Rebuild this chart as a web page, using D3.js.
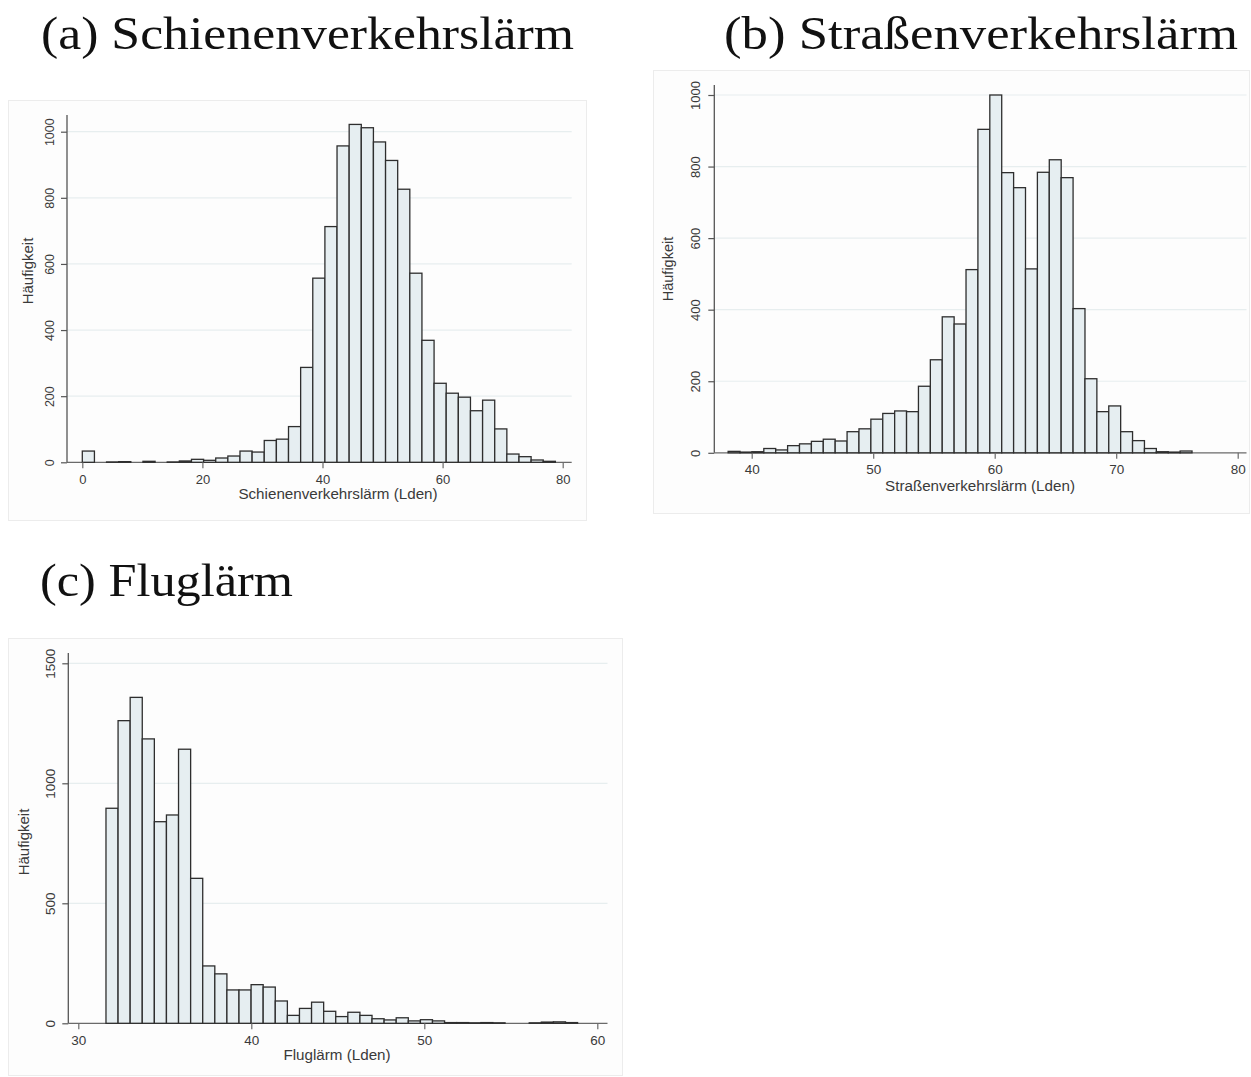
<!DOCTYPE html>
<html>
<head>
<meta charset="utf-8">
<script src="https://cdn.jsdelivr.net/npm/d3@7"></script>
<style>
  body { margin: 0; background: #ffffff; }
  svg { display: block; }
</style>
</head>
<body>
<svg id="chart" width="1251" height="1077"></svg>
<script>
// Häufigkeiten je Klasse, jeweils 39 Klassen gleicher Breite

// (a) Schienenverkehrslärm
const schieneCounts = [34, 0, 1, 2, 0, 3, 0, 1, 4, 9, 6, 13, 19, 34, 31, 66, 70, 108, 287, 557,
                       713, 957, 1022, 1012, 969, 913, 826, 572, 369, 239, 209, 197, 156, 188, 101, 25, 17, 7, 3];
const schieneStart = 0;
const schieneBinWidth = 2.02;
const schieneXTicks = [0, 20, 40, 60, 80];
const schieneYTicks = [0, 200, 400, 600, 800, 1000];

// (b) Straßenverkehrslärm
const strasseCounts = [4, 2, 3, 12, 8, 20, 25, 32, 38, 33, 59, 67, 94, 110, 117, 115, 186, 260, 380, 360,
                       512, 904, 1000, 783, 741, 514, 784, 819, 769, 403, 207, 115, 131, 59, 34, 12, 3, 2, 5];
const strasseStart = 38.06;
const strasseBinWidth = 0.979;
const strasseXTicks = [40, 50, 60, 70, 80];
const strasseYTicks = [0, 200, 400, 600, 800, 1000];

// (c) Fluglärm
const flugCounts = [896, 1261, 1358, 1185, 840, 868, 1142, 604, 239, 206, 139, 139, 161, 151, 93, 33, 62, 88, 50, 28,
                    46, 33, 19, 14, 23, 10, 15, 10, 3, 3, 2, 3, 2, 0, 0, 2, 5, 6, 3];
const flugStart = 31.6;
const flugBinWidth = 0.699;
const flugXTicks = [30, 40, 50, 60];
const flugYTicks = [0, 500, 1000, 1500];

const titles = ["(a) Schienenverkehrslärm", "(b) Straßenverkehrslärm", "(c) Fluglärm"];
const xLabels = ["Schienenverkehrslärm (Lden)", "Straßenverkehrslärm (Lden)", "Fluglärm (Lden)"];
const yLabel = "Häufigkeit";

// Layout of the three panels
const panels = [
  {
    title: titles[0], xLabel: xLabels[0],
    counts: schieneCounts, start: schieneStart, binWidth: schieneBinWidth,
    xTicks: schieneXTicks, yTicks: schieneYTicks,
    frame: { x0: 8, y0: 100, x1: 586, y1: 520 },
    xDomain: [0, 80], xRange: [82.3, 562.7],
    yDomain: [0, 1000], yRange: [462.3, 131.7],
    plotLeft: 67, plotRight: 571.7, plotTop: 115,
    titleX: 41, titleY: 49, titleW: 533,
    yTickBase: 53.5, yTickSize: 12.5,
    yTitleBase: 32.5, yTitleY: 271, yTitleSize: 15,
    xTickBase: 484, xTickSize: 13,
    xTitleX: 338, xTitleBase: 499, xTitleSize: 15.2
  },
  {
    title: titles[1], xLabel: xLabels[1],
    counts: strasseCounts, start: strasseStart, binWidth: strasseBinWidth,
    xTicks: strasseXTicks, yTicks: strasseYTicks,
    frame: { x0: 653, y0: 70, x1: 1249, y1: 513 },
    xDomain: [40, 80], xRange: [751.7, 1237.7],
    yDomain: [0, 1000], yRange: [452.8, 95],
    plotLeft: 714.3, plotRight: 1246.5, plotTop: 85,
    titleX: 724, titleY: 49, titleW: 514,
    yTickBase: 700, yTickSize: 13,
    yTitleBase: 672.5, yTitleY: 269, yTitleSize: 14.5,
    xTickBase: 474, xTickSize: 13.5,
    xTitleX: 980, xTitleBase: 491, xTitleSize: 15.2
  },
  {
    title: titles[2], xLabel: xLabels[2],
    counts: flugCounts, start: flugStart, binWidth: flugBinWidth,
    xTicks: flugXTicks, yTicks: flugYTicks,
    frame: { x0: 8, y0: 638, x1: 622, y1: 1075 },
    xDomain: [30, 60], xRange: [78.3, 597.3],
    yDomain: [0, 1500], yRange: [1023.3, 663.3],
    plotLeft: 68.3, plotRight: 607.5, plotTop: 653,
    titleX: 40, titleY: 596, titleW: 253,
    yTickBase: 55, yTickSize: 13.5,
    yTitleBase: 29, yTitleY: 842, yTitleSize: 15,
    xTickBase: 1045, xTickSize: 13.5,
    xTitleX: 337, xTitleBase: 1060, xTitleSize: 15.2
  }
];

const svg = d3.select("#chart");
const sans = "'Liberation Sans', Arial, Helvetica, sans-serif";
const serif = "'Liberation Serif', 'DejaVu Serif', serif";
const titleSize = 47;

panels.forEach(p => {
  const g = svg.append("g");
  const f = p.frame;

  // Graph region frame
  g.append("rect")
    .attr("x", f.x0 + 0.5).attr("y", f.y0 + 0.5)
    .attr("width", f.x1 - f.x0).attr("height", f.y1 - f.y0)
    .attr("fill", "#fdfdfd").attr("stroke", "#ececec").attr("stroke-width", 1);

  const x = d3.scaleLinear().domain(p.xDomain).range(p.xRange);
  const y = d3.scaleLinear().domain(p.yDomain).range(p.yRange);
  const y0 = y(0);

  // Horizontal grid lines
  g.append("g").selectAll("line")
    .data(p.yTicks.filter(t => t > 0))
    .join("line")
    .attr("x1", p.plotLeft).attr("x2", p.plotRight)
    .attr("y1", d => y(d)).attr("y2", d => y(d))
    .attr("stroke", "#e7eeef").attr("stroke-width", 1.2);

  // Histogram bars (empty classes are not drawn)
  const bins = p.counts.map((c, i) => ({
    x0: p.start + i * p.binWidth,
    x1: p.start + (i + 1) * p.binWidth,
    count: c
  })).filter(b => b.count > 0);

  // x axis line
  g.append("line")
    .attr("x1", p.plotLeft).attr("x2", p.plotRight)
    .attr("y1", y0).attr("y2", y0)
    .attr("stroke", "#6a6a6a").attr("stroke-width", 1.3);

  g.append("g").selectAll("rect")
    .data(bins)
    .join("rect")
    .attr("x", d => x(d.x0))
    .attr("width", d => x(d.x1) - x(d.x0))
    .attr("y", d => y(d.count))
    .attr("height", d => y0 - y(d.count))
    .attr("fill", "#e6eef1")
    .attr("stroke", "#2e2e2e")
    .attr("stroke-width", 1.3);

  // y axis (line, ticks, vertical labels)
  const yAxis = d3.axisLeft(y).tickValues(p.yTicks).tickSize(6).tickSizeOuter(0).tickFormat(d3.format("d"));
  const ya = g.append("g").attr("transform", `translate(${p.plotLeft},0)`).call(yAxis);
  ya.select(".domain").attr("d", `M0,${p.plotTop}V${y0}`).attr("stroke", "#555").attr("stroke-width", 1.3);
  ya.selectAll(".tick line").attr("stroke", "#555").attr("stroke-width", 1.2);
  ya.selectAll(".tick text")
    .attr("x", null).attr("dy", null)
    .attr("transform", `translate(${p.yTickBase - p.plotLeft},0) rotate(-90)`)
    .attr("text-anchor", "middle")
    .attr("font-family", sans).attr("font-size", p.yTickSize)
    .attr("fill", "#3a3a3a");

  // x axis (ticks and labels)
  const xAxis = d3.axisBottom(x).tickValues(p.xTicks).tickSize(6).tickSizeOuter(0).tickFormat(d3.format("d"));
  const xa = g.append("g").attr("transform", `translate(0,${y0})`).call(xAxis);
  xa.select(".domain").remove();
  xa.selectAll(".tick line").attr("stroke", "#6a6a6a").attr("stroke-width", 1.2);
  xa.selectAll(".tick text")
    .attr("y", p.xTickBase - y0).attr("dy", null)
    .attr("font-family", sans).attr("font-size", p.xTickSize)
    .attr("fill", "#3a3a3a");

  // Axis titles
  g.append("text")
    .attr("transform", `translate(${p.yTitleBase},${p.yTitleY}) rotate(-90)`)
    .attr("text-anchor", "middle")
    .attr("font-family", sans).attr("font-size", p.yTitleSize)
    .attr("fill", "#3a3a3a")
    .text(yLabel);

  g.append("text")
    .attr("x", p.xTitleX).attr("y", p.xTitleBase)
    .attr("text-anchor", "middle")
    .attr("font-family", sans).attr("font-size", p.xTitleSize)
    .attr("fill", "#3a3a3a")
    .text(p.xLabel);

  // Panel title, fitted to its slot width
  svg.append("text")
    .attr("x", p.titleX).attr("y", p.titleY)
    .attr("font-family", serif).attr("font-size", titleSize)
    .attr("textLength", p.titleW).attr("lengthAdjust", "spacingAndGlyphs")
    .attr("fill", "#111")
    .text(p.title);
});
</script>
</body>
</html>
